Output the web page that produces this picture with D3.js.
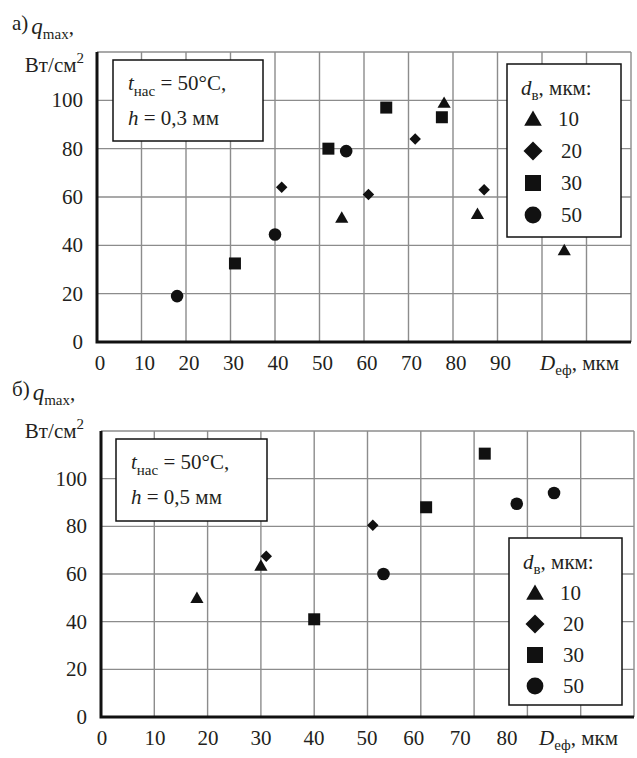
<!DOCTYPE html>
<html>
<head>
<meta charset="utf-8">
<script src="https://cdn.jsdelivr.net/npm/d3@7"></script>
</head>
<body style="margin:0">
<script>
// d_в series names
const seriesNames = ['10', '20', '30', '50']
const seriesShapes = ['triangle', 'diamond', 'square', 'circle']

// panel а) h = 0,3 мм   [D_еф, q_max]
const a_d10 = [[55, 51.5], [78, 99], [85.5, 53], [105, 38]]
const a_d20 = [[41.5, 64], [61, 61], [71.5, 84], [87, 63]]
const a_d30 = [[31, 32.5], [52, 80], [65, 97], [77.5, 93]]
const a_d50 = [[18, 19], [40, 44.5], [56, 79]]

// panel б) h = 0,5 мм
const b_d10 = [[18, 50], [30, 63.5]]
const b_d20 = [[31, 67.5], [51, 80.5]]
const b_d30 = [[40, 41], [61, 88], [72, 110.5]]
const b_d50 = [[53, 60], [78, 89.5], [85, 94]]

const yTicks = [0, 20, 40, 60, 80, 100]
const a_xLabels = [0, 10, 20, 30, 40, 50, 60, 70, 80, 90]
const b_xLabels = [0, 10, 20, 30, 40, 50, 60, 70, 80]

const WIDTH = 637
const HEIGHT = 758

const svg = d3.select('body').append('svg')
  .attr('width', WIDTH)
  .attr('height', HEIGHT)

// every label goes through here so the face is set on the element itself
const label = (parent, size) => parent.append('text')
  .style('font-family', '"Liberation Serif"')
  .attr('font-size', size)
  .attr('fill', '#231f20')

const sub = (t, str, dy, size) => t.append('tspan')
  .style('font-family', '"Liberation Serif"')
  .attr('font-size', size)
  .attr('dy', dy)
  .text(str)

const marker = (shape, s) => {
  const h = s / 2
  if (shape === 'triangle') {
    return `M0,${-h * 1.05}L${h * 1.1},${h * 0.85}L${-h * 1.1},${h * 0.85}Z`
  }
  if (shape === 'diamond') {
    return `M0,${-h}L${h},0L0,${h}L${-h},0Z`
  }
  if (shape === 'square') {
    return `M${-h},${-h}H${h}V${h}H${-h}Z`
  }
  return d3.arc()({ innerRadius: 0, outerRadius: h * 1.05, startAngle: 0, endAngle: 2 * Math.PI })
}

const drawPanel = (cfg) => {
  const x = d3.scaleLinear().domain([0, cfg.xMax]).range([cfg.left, cfg.right])
  const y = d3.scaleLinear().domain([0, 120]).range([cfg.bottom, cfg.top])
  const g = svg.append('g')

  // grid
  g.append('g')
    .attr('stroke', '#8c8c8c')
    .attr('stroke-width', 1.4)
    .selectAll('line')
    .data(d3.range(10, cfg.xMax + 1, 10))
    .join('line')
      .attr('x1', d => x(d)).attr('x2', d => x(d))
      .attr('y1', y(0)).attr('y2', y(120))
  g.append('g')
    .attr('stroke', '#8c8c8c')
    .attr('stroke-width', 1.4)
    .selectAll('line')
    .data(d3.range(20, 121, 20))
    .join('line')
      .attr('x1', x(0)).attr('x2', x(cfg.xMax))
      .attr('y1', d => y(d)).attr('y2', d => y(d))

  // axes
  g.append('path')
    .attr('d', `M${x(0)},${y(120)}V${y(0)}H${x(cfg.xMax)}`)
    .attr('fill', 'none')
    .attr('stroke', '#111')
    .attr('stroke-width', 3)

  // y tick labels
  yTicks.forEach(d => {
    label(g, 21)
      .attr('x', x(0) - 14)
      .attr('y', y(d) + 7)
      .attr('text-anchor', 'end')
      .text(d)
  })

  // x tick labels (label positions drift slightly from the grid in the original)
  const xl = cfg.labelScale || x.copy().range([cfg.left + 3, cfg.right + 3])
  cfg.xLabels.forEach(d => {
    label(g, 21)
      .attr('x', xl(d))
      .attr('y', y(0) + 28)
      .attr('text-anchor', 'middle')
      .text(d)
  })

  // x axis title
  const xt = label(g, 21).attr('x', cfg.xTitleX).attr('y', y(0) + 28)
  sub(xt, 'D', 0, 21).attr('font-style', 'italic')
  sub(xt, 'еф', 5, 15)
  sub(xt, ', мкм', -5, 21)

  // y heading
  const h1 = label(g, 21).attr('x', cfg.headX).attr('y', cfg.headY)
  sub(h1, cfg.letter + ')', 0, 21)
  sub(h1, 'q', 4, 23).attr('dx', 3).attr('font-style', 'italic')
  sub(h1, 'max', 5, 15)
  sub(h1, ',', -5, 21)
  const h2 = label(g, 21).attr('x', 84).attr('y', cfg.headY + 42).attr('text-anchor', 'end')
  sub(h2, 'Вт/см', 0, 21)
  sub(h2, '2', -9, 15)

  // info box
  g.append('rect')
    .attr('x', cfg.info[0]).attr('y', cfg.info[1])
    .attr('width', cfg.info[2]).attr('height', cfg.info[3])
    .attr('fill', '#fff').attr('stroke', '#111').attr('stroke-width', 1.5)
  const t1 = label(g, 21).attr('x', cfg.info[0] + 15).attr('y', cfg.info[1] + 30)
  sub(t1, 't', 0, 21).attr('font-style', 'italic')
  sub(t1, 'нас', 6, 15)
  sub(t1, ' = 50°C,', -6, 21)
  const t2 = label(g, 21).attr('x', cfg.info[0] + 15).attr('y', cfg.info[1] + 65)
  sub(t2, 'h', 0, 21).attr('font-style', 'italic')
  sub(t2, ' = ' + cfg.hText, 0, 21)

  // points
  cfg.series.forEach((pts, i) => {
    g.append('g').selectAll('path')
      .data(pts)
      .join('path')
        .attr('transform', d => `translate(${x(d[0])},${y(d[1])})`)
        .attr('d', marker(seriesShapes[i], seriesShapes[i] === 'diamond' ? 11.5 : 12))
        .attr('fill', '#111')
  })

  // legend
  const [lx, ly, lw, lh] = cfg.legend
  g.append('rect')
    .attr('x', lx).attr('y', ly).attr('width', lw).attr('height', lh)
    .attr('fill', '#fff').attr('stroke', '#111').attr('stroke-width', 1.5)
  const lt = label(g, 21).attr('x', lx + 14).attr('y', ly + 31)
  sub(lt, 'd', 0, 21).attr('font-style', 'italic')
  sub(lt, 'в', 5, 15)
  sub(lt, ', мкм:', -5, 21)
  seriesNames.forEach((name, i) => {
    const ry = ly + 55 + i * cfg.legendStep
    g.append('path')
      .attr('transform', `translate(${lx + 26},${ry})`)
      .attr('d', marker(seriesShapes[i], seriesShapes[i] === 'diamond' ? 19 : 16))
      .attr('fill', '#111')
    label(g, 21)
      .attr('x', lx + (i === 0 ? 51 : 54))
      .attr('y', ry + 7)
      .text(name)
  })
}

drawPanel({
  letter: 'а', xMax: 120, left: 97, right: 631, top: 52, bottom: 342,
  xLabels: a_xLabels, xTitleX: 540, headX: 12, headY: 30,
  series: [a_d10, a_d20, a_d30, a_d50],
  info: [113, 60, 150, 81], hText: '0,3 мм',
  legend: [507, 64, 114, 173], legendStep: 32
})

drawPanel({
  letter: 'б', xMax: 100, left: 101, right: 634, top: 431, bottom: 717,
  xLabels: b_xLabels, xTitleX: 539, headX: 12, headY: 396,
  labelScale: d3.scaleLinear().domain([0, 50, 80]).range([102, 367, 507]),
  series: [b_d10, b_d20, b_d30, b_d50],
  info: [116, 439, 151, 82], hText: '0,5 мм',
  legend: [509, 538, 113, 167], legendStep: 31
})
</script>
</body>
</html>
